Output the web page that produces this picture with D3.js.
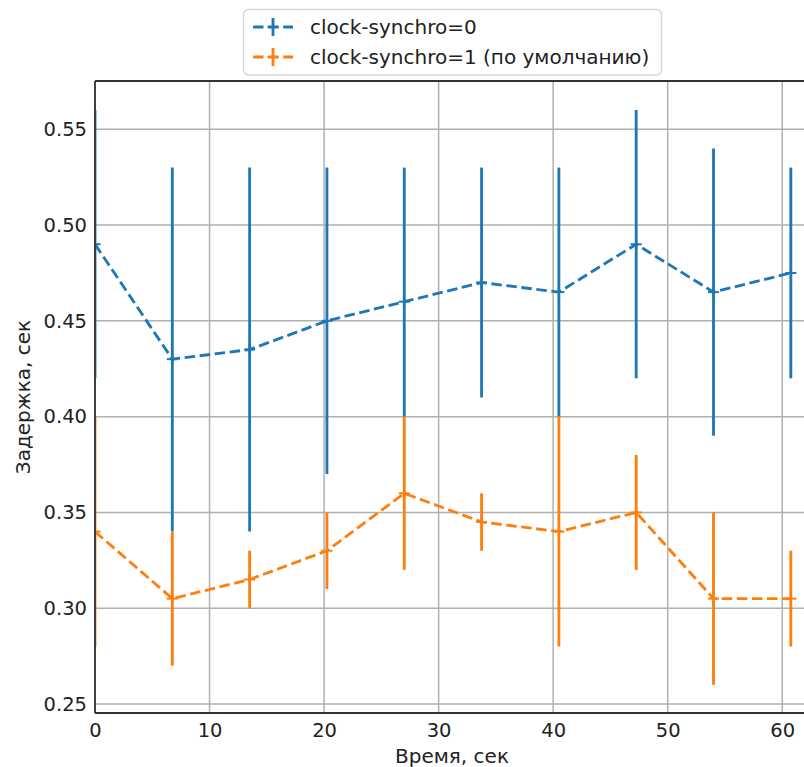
<!DOCTYPE html>
<html>
<head>
<meta charset="utf-8">
<script src="https://cdn.jsdelivr.net/npm/d3@7"></script>
<style>
  html, body { margin: 0; padding: 0; background: #fff; }
  svg { display: block; font-family: "DejaVu Sans", sans-serif; }
</style>
</head>
<body>
<svg id="chart" width="804" height="767"></svg>
<script>
// ---- data ----
const times = [0, 6.75, 13.5, 20.25, 27, 33.75, 40.5, 47.25, 54, 60.75];

const sync0Mean  = [0.49, 0.43, 0.435, 0.45, 0.46, 0.47, 0.465, 0.49, 0.465, 0.475];
const sync0Lower = [0.42, 0.34, 0.34, 0.37, 0.40, 0.41, 0.40, 0.42, 0.39, 0.42];
const sync0Upper = [0.56, 0.53, 0.53, 0.53, 0.53, 0.53, 0.53, 0.56, 0.54, 0.53];

const sync1Mean  = [0.34, 0.305, 0.315, 0.33, 0.36, 0.345, 0.34, 0.35, 0.305, 0.305];
const sync1Lower = [0.28, 0.27, 0.30, 0.31, 0.32, 0.33, 0.28, 0.32, 0.26, 0.28];
const sync1Upper = [0.40, 0.34, 0.33, 0.35, 0.40, 0.36, 0.40, 0.38, 0.35, 0.33];

const xTicks = [0, 10, 20, 30, 40, 50, 60];
const yTicks = [0.25, 0.30, 0.35, 0.40, 0.45, 0.50, 0.55];

const seriesNames = ["clock-synchro=0", "clock-synchro=1 (по умолчанию)"];
const seriesColors = ["#1f77b4", "#ff7f0e"];

// ---- layout ----
(function () {
const svg = d3.select("#chart");
const pL = 95, pT = 81, pB = 713, pR = 804;

const x = d3.scaleLinear().domain([0, 61.9]).range([pL, pR]);
const y = d3.scaleLinear().domain([0.2453, 0.5752]).range([pB, pT]);

svg.append("defs").append("clipPath").attr("id", "plotclip")
  .append("rect").attr("x", pL).attr("y", pT - 40)
  .attr("width", pR - pL).attr("height", pB - pT + 40);

// grid
const grid = svg.append("g");
grid.selectAll("line.vx").data(xTicks).join("line")
  .attr("x1", d => x(d)).attr("x2", d => x(d))
  .attr("y1", pT).attr("y2", pB)
  .attr("stroke", "#b0b0b0").attr("stroke-width", 1.5);
grid.selectAll("line.hy").data(yTicks).join("line")
  .attr("x1", pL).attr("x2", pR)
  .attr("y1", d => y(d)).attr("y2", d => y(d))
  .attr("stroke", "#b0b0b0").attr("stroke-width", 1.5);

// axes (labels only, no tick marks)
const xAxis = d3.axisBottom(x).tickValues(xTicks).tickSize(0).tickPadding(10)
  .tickFormat(d3.format("d"));
const yAxis = d3.axisLeft(y).tickValues(yTicks).tickSize(0).tickPadding(8)
  .tickFormat(d3.format(".2f"));

const gx = svg.append("g").attr("transform", `translate(0,${pB})`).call(xAxis);
const gy = svg.append("g").attr("transform", `translate(${pL},0)`).call(yAxis);
[gx, gy].forEach(g => {
  g.select(".domain").remove();
  g.selectAll("text").attr("font-size", 19.5).attr("fill", "#222")
    .attr("font-family", "DejaVu Sans, sans-serif");
});

// data layers
const plot = svg.append("g").attr("clip-path", "url(#plotclip)");
const series = [
  { mean: sync0Mean, lo: sync0Lower, hi: sync0Upper, color: seriesColors[0] },
  { mean: sync1Mean, lo: sync1Lower, hi: sync1Upper, color: seriesColors[1] }
];
const lineGen = d3.line().x((d, i) => x(times[i])).y(d => y(d));

series.forEach(s => {
  const g = plot.append("g");
  g.append("path").datum(s.mean)
    .attr("d", lineGen)
    .attr("fill", "none").attr("stroke", s.color)
    .attr("stroke-width", 2.85).attr("stroke-dasharray", "10.5,4.6");
  g.selectAll("line.err").data(times).join("line")
    .attr("x1", d => x(d)).attr("x2", d => x(d))
    .attr("y1", (d, i) => y(s.lo[i])).attr("y2", (d, i) => y(s.hi[i]))
    .attr("stroke", s.color).attr("stroke-width", 2.85);
  g.selectAll("line.mh").data(times).join("line")
    .attr("x1", d => x(d) - 5.5).attr("x2", d => x(d) + 5.5)
    .attr("y1", (d, i) => y(s.mean[i])).attr("y2", (d, i) => y(s.mean[i]))
    .attr("stroke", s.color).attr("stroke-width", 2);
  g.selectAll("line.mv").data(times).join("line")
    .attr("x1", d => x(d)).attr("x2", d => x(d))
    .attr("y1", (d, i) => y(s.mean[i]) - 5.5).attr("y2", (d, i) => y(s.mean[i]) + 5.5)
    .attr("stroke", s.color).attr("stroke-width", 2);
});

// spines (left, bottom, top)
svg.append("line").attr("x1", pL).attr("x2", pL).attr("y1", pT).attr("y2", pB)
  .attr("stroke", "#333").attr("stroke-width", 1.8);
svg.append("line").attr("x1", pL).attr("x2", pR).attr("y1", pB).attr("y2", pB)
  .attr("stroke", "#333").attr("stroke-width", 1.8);
svg.append("line").attr("x1", pL).attr("x2", pR).attr("y1", pT).attr("y2", pT)
  .attr("stroke", "#333").attr("stroke-width", 1.8);

// axis titles
svg.append("text").attr("x", 452).attr("y", 763)
  .attr("text-anchor", "middle").attr("font-size", 20).attr("fill", "#222")
  .text("Время, сек");
svg.append("text")
  .attr("transform", `translate(29.5,${(pT + pB) / 2}) rotate(-90)`)
  .attr("text-anchor", "middle").attr("font-size", 20).attr("fill", "#222")
  .text("Задержка, сек");

// legend
const lg = svg.append("g");
lg.append("rect").attr("x", 243.5).attr("y", 9.5).attr("width", 418).attr("height", 65.5)
  .attr("rx", 5).attr("fill", "#fff").attr("fill-opacity", 0.8)
  .attr("stroke", "#d6d6d6").attr("stroke-width", 1.5);
seriesNames.forEach((name, i) => {
  const cy = 27 + i * 30;
  const c = seriesColors[i];
  const row = lg.append("g");
  row.append("line").attr("x1", 253).attr("x2", 293).attr("y1", cy).attr("y2", cy)
    .attr("stroke", c).attr("stroke-width", 2.85).attr("stroke-dasharray", "10.5,4.6");
  row.append("line").attr("x1", 273).attr("x2", 273).attr("y1", cy - 9).attr("y2", cy + 9)
    .attr("stroke", c).attr("stroke-width", 2.85);
  row.append("line").attr("x1", 267.5).attr("x2", 278.5).attr("y1", cy).attr("y2", cy)
    .attr("stroke", c).attr("stroke-width", 2);
  row.append("text").attr("x", 310).attr("y", cy + 7).attr("font-size", 20)
    .attr("fill", "#222").text(name);
});
})();
</script>
</body>
</html>
